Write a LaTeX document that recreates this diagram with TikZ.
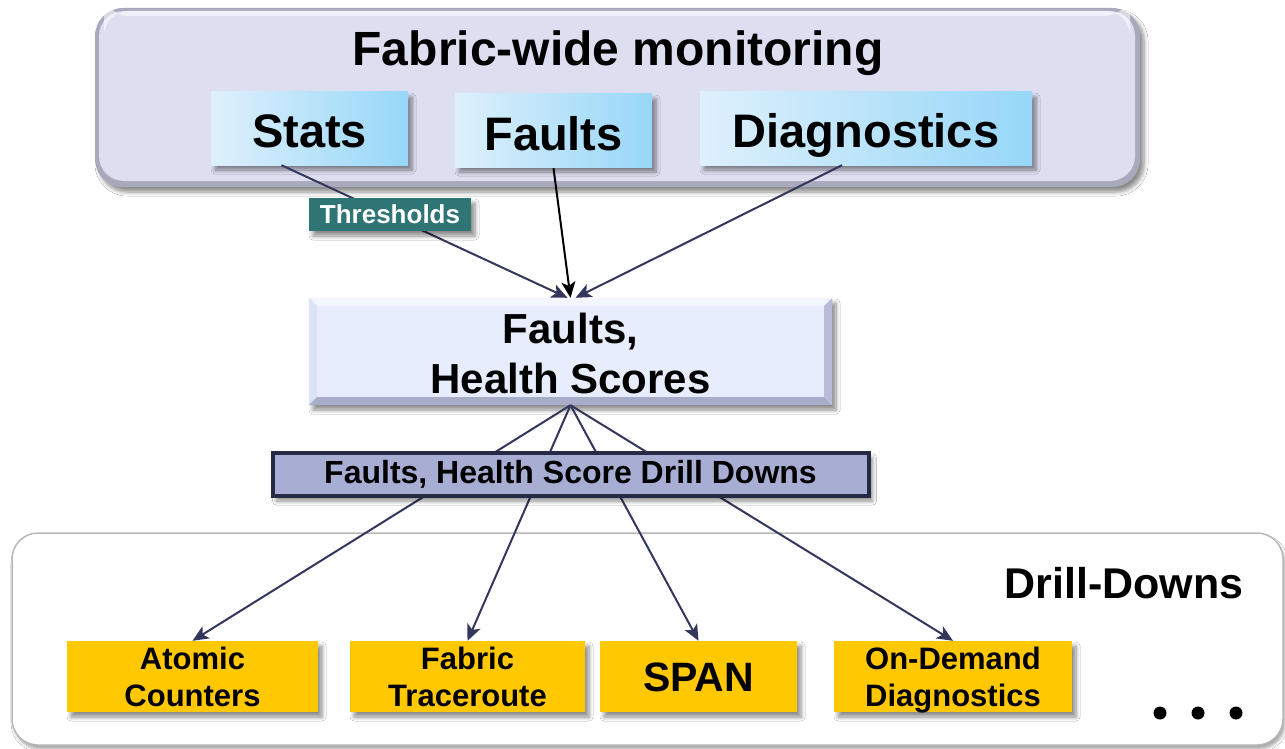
\documentclass[tikz,border=0pt]{standalone}
\usepackage{fontspec}
\setmainfont{Liberation Sans}
\usetikzlibrary{arrows.meta,shadows.blur,calc}

\definecolor{panelfill}{HTML}{DEDEF1}
\definecolor{panelrim}{HTML}{A9A9BE}
\definecolor{bluel}{HTML}{DEF0FC}
\definecolor{bluer}{HTML}{97D7F8}
\definecolor{teal}{HTML}{2F7575}
\definecolor{navy}{HTML}{34375C}
\definecolor{hsfill}{HTML}{E7EDFC}
\definecolor{bevtop}{HTML}{F3F6FE}
\definecolor{bevleft}{HTML}{DCE2F5}
\definecolor{bevbot}{HTML}{A7ADC9}
\definecolor{bevright}{HTML}{B7BDD8}
\definecolor{ddfill}{HTML}{A8ADD3}
\definecolor{ddrim}{HTML}{272A45}
\definecolor{gold}{HTML}{FFC800}

\tikzset{
  softshadow/.style={blur shadow={shadow xshift=4pt, shadow yshift=-5pt,
      shadow blur radius=4pt, shadow blur steps=6, shadow opacity=45}},
  bluebox/.style={left color=bluel, right color=bluer, draw=none,
      minimum height=73pt, inner sep=0pt, softshadow,
      text height=39pt, text depth=0pt,
      font=\fontsize{47}{50}\selectfont\bfseries},
  goldbox/.style={fill=gold, draw=none, minimum height=71pt, inner sep=0pt,
      align=center, softshadow,
      font=\fontsize{31}{37}\selectfont\bfseries},
  link/.style={draw=navy, line width=2pt,
      -{Stealth[length=16pt,width=14pt,inset=4pt]}},
}

\begin{document}
\begin{tikzpicture}[x=1pt,y=-1pt]
\useasboundingbox (0,0) rectangle (1285,749);
\fill[white] (0,0) rectangle (1285,749);

% upper panel: fabric-wide monitoring
\fill[panelrim, rounded corners=28pt, softshadow] (95,8) rectangle (1140,187);
\fill[panelfill, rounded corners=25pt] (99,11) rectangle (1135,181);
\fill[white, opacity=0.55, rounded corners=25pt] (104,11) rectangle (1130,16);
\node[font=\fontsize{48}{50}\selectfont\bfseries, anchor=base] (title) at (618,66) {Fabric-wide monitoring};

\node[bluebox, minimum width=197pt] (stats) at (309.5,128.5) {Stats};
\node[bluebox, minimum width=197pt] (faults) at (553.5,130.5) {Faults};
\node[bluebox, minimum width=332pt] (diag) at (866,128.5) {Diagnostics};

% lower panel: drill-downs
\draw[draw=black!28, line width=1.5pt, fill=white, rounded corners=26pt,
      blur shadow={shadow xshift=2pt, shadow yshift=-4pt, shadow blur radius=3pt,
      shadow blur steps=5, shadow opacity=35}]
  (12,533) rectangle (1283,745);
\node[font=\fontsize{43}{45}\selectfont\bfseries, anchor=base east] (ddtitle) at (1247,598) {Drill-Downs};

% faults and health scores
\node[fill=hsfill, minimum width=523pt, minimum height=107pt, inner sep=0pt,
      softshadow] (hs) at (570.5,351.5) {};
\fill[bevtop] (hs.north west) -- (hs.north east) -- ++(-8,8)
  -- ($(hs.north west)+(8,8)$) -- cycle;
\fill[bevleft] (hs.north west) -- ($(hs.north west)+(8,8)$)
  -- ($(hs.south west)+(8,-8)$) -- (hs.south west) -- cycle;
\fill[bevbot] (hs.south west) -- (hs.south east) -- ++(-8,-8)
  -- ($(hs.south west)+(8,-8)$) -- cycle;
\fill[bevright] (hs.north east) -- ($(hs.north east)+(-8,8)$)
  -- ($(hs.south east)+(-8,-8)$) -- (hs.south east) -- cycle;
\node[align=center, font=\fontsize{42}{50}\selectfont\bfseries] (hstext) at ($(hs.center)+(0,2)$)
  {Faults,\\Health Scores};

% drill-down targets
\node[goldbox, minimum width=251pt] (atomic) at (192.5,676.5) {Atomic\\Counters};
\node[goldbox, minimum width=235pt] (trace) at (467.5,676.5) {Fabric\\Traceroute};
\node[goldbox, minimum width=197pt, font=\fontsize{41}{44}\selectfont\bfseries,
      text height=30pt, text depth=0pt] (span) at (698.5,676.5) {SPAN};
\node[goldbox, minimum width=238pt] (ondemand) at (953,676.5) {On-Demand\\\smash{Diagnostics}};

% monitoring sources feeding faults and health scores
\draw[link] ($(stats.south)+(-28,0)$) -- ($(hs.north)+(-3,0)$);
\draw[link, draw=black] ($(faults.south)+(0,1)$) -- (hs.north);
\draw[link] ($(diag.south)+(-24,0)$) -- ($(hs.north)+(5,0)$);
\node[fill=teal, text=white, minimum width=162pt, minimum height=33pt, inner sep=0pt,
      softshadow, font=\fontsize{26}{28}\selectfont\bfseries] (thr) at (390,214.5) {Thresholds};

% health scores fanning out to the drill-downs
\draw[link] (hs.south) -- (atomic.north);
\draw[link] (hs.south) -- (trace.north);
\draw[link] (hs.south) -- (span.north);
\draw[link] (hs.south) -- (ondemand.north);
\node[fill=ddfill, draw=ddrim, line width=4pt, minimum width=596pt, minimum height=43pt,
      inner sep=0pt, softshadow, font=\fontsize{32}{34}\selectfont\bfseries]
  (ddlabel) at (570.5,474.5) {Faults, Health Score Drill Downs};

% ellipsis
\fill (1160,713) circle (6.5pt);
\fill (1198,713) circle (6.5pt);
\fill (1236,713) circle (6.5pt);
\end{tikzpicture}
\end{document}
